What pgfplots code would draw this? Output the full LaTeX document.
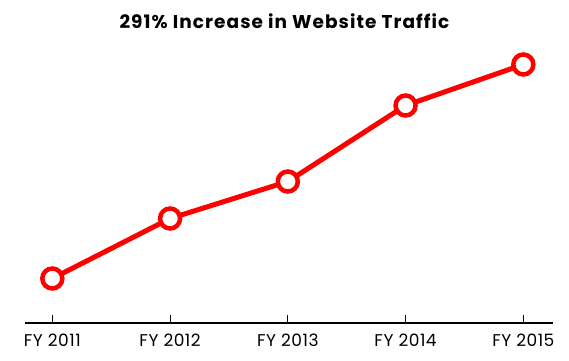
\documentclass[border=0pt]{standalone}
\usepackage{pgfplots}
\pgfplotsset{compat=1.18}
\usepackage{fontspec}
\setmainfont{Poppins}
\newfontfamily\titlefont[LetterSpace=5.8]{Poppins}
\newfontfamily\tickfont[LetterSpace=3]{Poppins}
\begin{document}
\begin{tikzpicture}[x=1pt,y=1pt]
\path[use as bounding box] (0,0) rectangle (569,360);
\node[font=\fontsize{18.5}{22}\titlefont\bfseries, anchor=base, inner sep=0pt] at (284.5,332) {291\% Increase in Website Traffic};
\begin{axis}[
  at={(25pt,37.5pt)}, anchor=south west,
  scale only axis, width=528pt, height=293pt,
  xmin=-0.232, xmax=4.252, ymin=0, ymax=293,
  axis x line=bottom, axis y line=none,
  axis line style={line width=2pt, -},
  xtick={0,1,2,3,4},
  xticklabels={FY 2011,FY 2012,FY 2013,FY 2014,FY 2015},
  xticklabel style={anchor=base, inner sep=0pt, yshift=-24.2pt, font=\fontsize{17}{20}\tickfont},
  major tick length=8pt,
  tick align=inside,
  tick style={line width=0.8pt, black},
  clip=false,
]
\addplot[color=red, line width=5pt, mark=*, mark size=10pt,
  mark options={fill=white, draw=red, line width=4.5pt}]
  coordinates {(0,44) (1,104) (2,141) (3,217) (4,258)};
\end{axis}
\end{tikzpicture}
\end{document}
